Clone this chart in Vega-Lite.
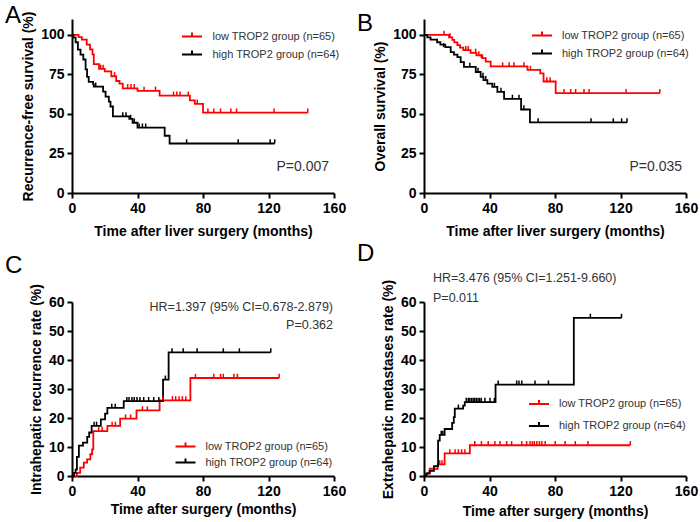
{
"$schema": "https://vega.github.io/schema/vega-lite/v6.json",
"padding": {"left": 5, "top": 4, "right": 5, "bottom": 5},
"background": "white",
"config": {
  "view": {"stroke": null},
  "font": "Liberation Sans",
  "axis": {"grid": false, "domainColor": "black", "domainWidth": 2, "tickColor": "black", "tickWidth": 2, "tickSize": 5,
    "labelFont": "Liberation Sans", "labelFontSize": 14, "labelFontWeight": "bold", "labelColor": "black", "labelPadding": 3,
    "titleFont": "Liberation Sans", "titleFontSize": 14, "titleFontWeight": "bold", "titleColor": "black",
    "labelFlush": false, "labelOverlap": false},
  "axisX": {"titlePadding": 9},
  "axisY": {"titlePadding": 5},
  "title": {"font": "Liberation Sans", "fontSize": 24, "fontWeight": "normal", "anchor": "start", "frame": "group", "color": "black"},
  "text": {"font": "Liberation Sans", "color": "#333"}
},
"bounds": "flush",
"columns": 2,
"spacing": {"row": 109, "column": 90},
"resolve": {"scale": {"x": "independent", "y": "independent", "color": "independent"}, "legend": {"color": "independent"}},
"datasets": {
  "aS": [
    {"g":"L","t":0,"v":100},{"g":"L","t":4,"v":98.5},{"g":"L","t":6,"v":96.9},{"g":"L","t":9,"v":93.8},{"g":"L","t":11,"v":90.8},{"g":"L","t":12.5,"v":87.7},{"g":"L","t":13.3,"v":81.5},{"g":"L","t":16.5,"v":78.5},{"g":"L","t":20,"v":76.9},{"g":"L","t":24,"v":73.8},{"g":"L","t":27,"v":70.8},{"g":"L","t":29,"v":69.2},{"g":"L","t":31,"v":66.2},{"g":"L","t":40,"v":64.6},{"g":"L","t":53.5,"v":61.5},{"g":"L","t":72,"v":58.5},{"g":"L","t":75,"v":56.4},{"g":"L","t":80,"v":50.8},{"g":"L","t":144,"v":50.8},
    {"g":"H","t":0,"v":100},{"g":"H","t":0.8,"v":98.4},{"g":"H","t":2.2,"v":95.3},{"g":"H","t":3.6,"v":90.6},{"g":"H","t":5.2,"v":87.5},{"g":"H","t":6.9,"v":84.4},{"g":"H","t":8.3,"v":78.1},{"g":"H","t":9.2,"v":73.4},{"g":"H","t":10.2,"v":70.3},{"g":"H","t":12.9,"v":68.8},{"g":"H","t":13.3,"v":67.2},{"g":"H","t":19,"v":64.1},{"g":"H","t":20.5,"v":60.9},{"g":"H","t":22.5,"v":57.8},{"g":"H","t":23.5,"v":54.7},{"g":"H","t":25,"v":48.4},{"g":"H","t":35,"v":46.8},{"g":"H","t":37,"v":44.4},{"g":"H","t":40,"v":41.3},{"g":"H","t":56.6,"v":36.2},{"g":"H","t":59.6,"v":31.3},{"g":"H","t":123.8,"v":31.3}
  ],
  "aC": [
    {"g":"L","t":17.5,"v":78.5},{"g":"L","t":19,"v":78.5},{"g":"L","t":26,"v":73.8},{"g":"L","t":34,"v":66.2},{"g":"L","t":36,"v":66.2},{"g":"L","t":38,"v":66.2},{"g":"L","t":44,"v":64.6},{"g":"L","t":51,"v":64.6},{"g":"L","t":62,"v":61.5},{"g":"L","t":64,"v":61.5},{"g":"L","t":66,"v":61.5},{"g":"L","t":71,"v":61.5},{"g":"L","t":76.5,"v":56.4},{"g":"L","t":83,"v":50.8},{"g":"L","t":86.6,"v":50.8},{"g":"L","t":90.7,"v":50.8},{"g":"L","t":97,"v":50.8},{"g":"L","t":100.5,"v":50.8},{"g":"L","t":123.4,"v":50.8},{"g":"L","t":144,"v":50.8},
    {"g":"H","t":14.5,"v":67.2},{"g":"H","t":31,"v":48.4},{"g":"H","t":33,"v":48.4},{"g":"H","t":35.8,"v":46.8},{"g":"H","t":38,"v":44.4},{"g":"H","t":41,"v":41.3},{"g":"H","t":43,"v":41.3},{"g":"H","t":45,"v":41.3},{"g":"H","t":70,"v":31.3},{"g":"H","t":101.5,"v":31.3},{"g":"H","t":121,"v":31.3},{"g":"H","t":123.8,"v":31.3}
  ],
  "bS": [
    {"g":"L","t":0,"v":100},{"g":"L","t":15.3,"v":98.4},{"g":"L","t":17.3,"v":96.8},{"g":"L","t":18.5,"v":95.2},{"g":"L","t":20.4,"v":93.5},{"g":"L","t":22,"v":91.9},{"g":"L","t":24,"v":90.3},{"g":"L","t":28.5,"v":88.6},{"g":"L","t":32,"v":87},{"g":"L","t":35.6,"v":85.3},{"g":"L","t":37.7,"v":83.1},{"g":"L","t":40.7,"v":80},{"g":"L","t":63.2,"v":77.8},{"g":"L","t":71,"v":75.6},{"g":"L","t":73,"v":70.5},{"g":"L","t":80.4,"v":63.1},{"g":"L","t":144,"v":63.1},
    {"g":"H","t":0,"v":100},{"g":"H","t":2,"v":98.4},{"g":"H","t":4,"v":96.9},{"g":"H","t":8,"v":95.3},{"g":"H","t":10,"v":93.8},{"g":"H","t":13,"v":92.2},{"g":"H","t":16.3,"v":89.1},{"g":"H","t":18.3,"v":87.5},{"g":"H","t":20.4,"v":85.9},{"g":"H","t":22.4,"v":82.8},{"g":"H","t":24.4,"v":79.7},{"g":"H","t":31.6,"v":76.5},{"g":"H","t":34.6,"v":73.4},{"g":"H","t":36.3,"v":71.3},{"g":"H","t":38.7,"v":69.2},{"g":"H","t":41.7,"v":67.1},{"g":"H","t":44.8,"v":63.9},{"g":"H","t":48.9,"v":59.5},{"g":"H","t":59.3,"v":52.8},{"g":"H","t":64.7,"v":44.6},{"g":"H","t":124,"v":44.6}
  ],
  "bC": [
    {"g":"L","t":12.3,"v":100},{"g":"L","t":15.9,"v":98.4},{"g":"L","t":25.5,"v":90.3},{"g":"L","t":27,"v":90.3},{"g":"L","t":31.5,"v":88.6},{"g":"L","t":33.5,"v":87},{"g":"L","t":35,"v":85.3},{"g":"L","t":48,"v":80},{"g":"L","t":52,"v":80},{"g":"L","t":55,"v":80},{"g":"L","t":61,"v":80},{"g":"L","t":65,"v":77.8},{"g":"L","t":75,"v":70.5},{"g":"L","t":77,"v":70.5},{"g":"L","t":85.5,"v":63.1},{"g":"L","t":89.6,"v":63.1},{"g":"L","t":92.6,"v":63.1},{"g":"L","t":97.7,"v":63.1},{"g":"L","t":100.8,"v":63.1},{"g":"L","t":123.4,"v":63.1},{"g":"L","t":144,"v":63.1},
    {"g":"H","t":12,"v":92.2},{"g":"H","t":28,"v":79.7},{"g":"H","t":33,"v":76.5},{"g":"H","t":36,"v":73.4},{"g":"H","t":37.7,"v":71.3},{"g":"H","t":43,"v":67.1},{"g":"H","t":47,"v":63.9},{"g":"H","t":54,"v":59.5},{"g":"H","t":58,"v":59.5},{"g":"H","t":61,"v":52.8},{"g":"H","t":69.7,"v":44.6},{"g":"H","t":102,"v":44.6},{"g":"H","t":115.6,"v":44.6},{"g":"H","t":120.7,"v":44.6},{"g":"H","t":124,"v":44.6}
  ],
  "cS": [
    {"g":"L","t":0,"v":0},{"g":"L","t":3,"v":1.1},{"g":"L","t":5,"v":2.9},{"g":"L","t":7.2,"v":4.6},{"g":"L","t":9.2,"v":5.7},{"g":"L","t":11.2,"v":7.5},{"g":"L","t":12.3,"v":9.2},{"g":"L","t":13,"v":15.5},{"g":"L","t":21.6,"v":17.3},{"g":"L","t":29.4,"v":19.8},{"g":"L","t":39.4,"v":22.6},{"g":"L","t":53.5,"v":26.1},{"g":"L","t":72.3,"v":33.8},{"g":"L","t":126.5,"v":33.8},
    {"g":"H","t":0,"v":0},{"g":"H","t":1.2,"v":1.1},{"g":"H","t":2.2,"v":2.2},{"g":"H","t":3,"v":6.6},{"g":"H","t":4.2,"v":10.5},{"g":"H","t":6.7,"v":11.5},{"g":"H","t":9.3,"v":13.5},{"g":"H","t":10.5,"v":15},{"g":"H","t":12,"v":17.3},{"g":"H","t":17.6,"v":19.5},{"g":"H","t":20.2,"v":21.5},{"g":"H","t":21.6,"v":23.5},{"g":"H","t":31.6,"v":25.8},{"g":"H","t":55.6,"v":33.2},{"g":"H","t":59,"v":42.6},{"g":"H","t":121.4,"v":42.6}
  ],
  "cC": [
    {"g":"L","t":16.3,"v":15.5},{"g":"L","t":18.4,"v":15.5},{"g":"L","t":24.5,"v":17.3},{"g":"L","t":26.5,"v":17.3},{"g":"L","t":32.7,"v":19.8},{"g":"L","t":35.8,"v":19.8},{"g":"L","t":43,"v":22.6},{"g":"L","t":46,"v":22.6},{"g":"L","t":55.5,"v":26.1},{"g":"L","t":61.3,"v":26.1},{"g":"L","t":63.3,"v":26.1},{"g":"L","t":65.4,"v":26.1},{"g":"L","t":67.4,"v":26.1},{"g":"L","t":69.5,"v":26.1},{"g":"L","t":75.4,"v":33.8},{"g":"L","t":86.6,"v":33.8},{"g":"L","t":90.7,"v":33.8},{"g":"L","t":92.4,"v":33.8},{"g":"L","t":98.9,"v":33.8},{"g":"L","t":101,"v":33.8},{"g":"L","t":126.5,"v":33.8},
    {"g":"H","t":13.5,"v":17.3},{"g":"H","t":15,"v":17.3},{"g":"H","t":24.3,"v":23.5},{"g":"H","t":26.4,"v":23.5},{"g":"H","t":33.5,"v":25.8},{"g":"H","t":34.8,"v":25.8},{"g":"H","t":36.6,"v":25.8},{"g":"H","t":38,"v":25.8},{"g":"H","t":39.7,"v":25.8},{"g":"H","t":41.5,"v":25.8},{"g":"H","t":43.8,"v":25.8},{"g":"H","t":46.8,"v":25.8},{"g":"H","t":49.9,"v":25.8},{"g":"H","t":53,"v":25.8},{"g":"H","t":57,"v":33.2},{"g":"H","t":61.1,"v":42.6},{"g":"H","t":67.9,"v":42.6},{"g":"H","t":76.4,"v":42.6},{"g":"H","t":92.4,"v":42.6},{"g":"H","t":102.2,"v":42.6},{"g":"H","t":121.4,"v":42.6}
  ],
  "dS": [
    {"g":"L","t":0,"v":0},{"g":"L","t":2,"v":0.9},{"g":"L","t":3.5,"v":2.5},{"g":"L","t":8.4,"v":4},{"g":"L","t":12.6,"v":7.8},{"g":"L","t":28,"v":10.6},{"g":"L","t":126,"v":10.6},
    {"g":"H","t":0,"v":0},{"g":"H","t":1.4,"v":0.9},{"g":"H","t":3.4,"v":1.8},{"g":"H","t":6.1,"v":3.4},{"g":"H","t":8.6,"v":12.2},{"g":"H","t":9.6,"v":14.2},{"g":"H","t":12.6,"v":16.2},{"g":"H","t":17.2,"v":18.3},{"g":"H","t":18.2,"v":20.3},{"g":"H","t":18.8,"v":23.2},{"g":"H","t":23.9,"v":24.3},{"g":"H","t":24.9,"v":25.5},{"g":"H","t":43.7,"v":31.5},{"g":"H","t":91.5,"v":54.5},{"g":"H","t":120.6,"v":54.5}
  ],
  "dC": [
    {"g":"L","t":9.6,"v":4},{"g":"L","t":11,"v":4},{"g":"L","t":15.8,"v":7.8},{"g":"L","t":19,"v":7.8},{"g":"L","t":21,"v":7.8},{"g":"L","t":23,"v":7.8},{"g":"L","t":25,"v":7.8},{"g":"L","t":31,"v":10.6},{"g":"L","t":35.1,"v":10.6},{"g":"L","t":39.2,"v":10.6},{"g":"L","t":43.3,"v":10.6},{"g":"L","t":46.4,"v":10.6},{"g":"L","t":50.5,"v":10.6},{"g":"L","t":53.5,"v":10.6},{"g":"L","t":59.7,"v":10.6},{"g":"L","t":62.7,"v":10.6},{"g":"L","t":64.8,"v":10.6},{"g":"L","t":66.2,"v":10.6},{"g":"L","t":67.4,"v":10.6},{"g":"L","t":68.9,"v":10.6},{"g":"L","t":70.5,"v":10.6},{"g":"L","t":72,"v":10.6},{"g":"L","t":74,"v":10.6},{"g":"L","t":80.1,"v":10.6},{"g":"L","t":86.2,"v":10.6},{"g":"L","t":92.4,"v":10.6},{"g":"L","t":100.1,"v":10.6},{"g":"L","t":126,"v":10.6},
    {"g":"H","t":10.5,"v":14.2},{"g":"H","t":11.5,"v":14.2},{"g":"H","t":21,"v":23.2},{"g":"H","t":25.8,"v":25.5},{"g":"H","t":27,"v":25.5},{"g":"H","t":28,"v":25.5},{"g":"H","t":29,"v":25.5},{"g":"H","t":30,"v":25.5},{"g":"H","t":31,"v":25.5},{"g":"H","t":32,"v":25.5},{"g":"H","t":33,"v":25.5},{"g":"H","t":34,"v":25.5},{"g":"H","t":35,"v":25.5},{"g":"H","t":37.2,"v":25.5},{"g":"H","t":40.3,"v":25.5},{"g":"H","t":43,"v":25.5},{"g":"H","t":45.3,"v":31.5},{"g":"H","t":56.6,"v":31.5},{"g":"H","t":58,"v":31.5},{"g":"H","t":59.7,"v":31.5},{"g":"H","t":67.8,"v":31.5},{"g":"H","t":76,"v":31.5},{"g":"H","t":101.6,"v":54.5},{"g":"H","t":120.6,"v":54.5}
  ]
},
"concat": [
  {
    "width": 262, "height": 174,
    "title": {"text": "A", "dx": -67, "dy": 21},
    "layer": [
      {"data": {"name": "aS"}, "mark": {"type": "line", "interpolate": "step-after", "strokeWidth": 1.8},
       "encoding": {
         "x": {"field": "t", "type": "quantitative", "scale": {"domain": [0, 160], "nice": false}, "axis": {"values": [0, 40, 80, 120, 160], "tickCount": 10, "labelOverlap": false, "title": "Time after liver surgery (months)"}},
         "y": {"field": "v", "type": "quantitative", "scale": {"domain": [0, 110], "nice": false}, "axis": {"values": [0, 25, 50, 75, 100], "tickCount": 10, "labelOverlap": false, "title": "Recurrence-free survival (%)"}},
         "color": {"field": "g", "type": "nominal", "scale": {"domain": ["L", "H"], "range": ["#ff0000", "#000000"]},
           "legend": {"orient": "none", "legendX": 114, "legendY": 11.5, "title": null, "padding": 0, "rowPadding": 5,
             "labelExpr": "datum.label == 'L' ? 'low TROP2 group (n=65)' : 'high TROP2 group (n=64)'",
             "symbolType": "M-2,0H2M0,0V-0.8", "symbolSize": 100, "symbolStrokeWidth": 2, "symbolFillColor": "transparent",
             "labelFont": "Liberation Sans", "labelFontSize": 11, "labelColor": "#333", "labelOffset": 14.5}}
       }},
      {"data": {"name": "aC"}, "mark": {"type": "point", "shape": "M0,0V-1", "size": 70, "filled": false, "strokeWidth": 1.5, "opacity": 1},
       "encoding": {"x": {"field": "t", "type": "quantitative"}, "y": {"field": "v", "type": "quantitative"}, "color": {"field": "g", "type": "nominal", "legend": null}}},
      {"data": {"values": [{"t": 157, "v": 16.5, "s": "P=0.007"}]}, "mark": {"type": "text", "align": "right", "baseline": "middle", "fontSize": 14},
       "encoding": {"x": {"field": "t", "type": "quantitative"}, "y": {"field": "v", "type": "quantitative"}, "text": {"field": "s"}}}
    ]
  },
  {
    "width": 262, "height": 174,
    "title": {"text": "B", "dx": -67, "dy": 21},
    "layer": [
      {"data": {"name": "bS"}, "mark": {"type": "line", "interpolate": "step-after", "strokeWidth": 1.8},
       "encoding": {
         "x": {"field": "t", "type": "quantitative", "scale": {"domain": [0, 160], "nice": false}, "axis": {"values": [0, 40, 80, 120, 160], "tickCount": 10, "labelOverlap": false, "title": "Time after liver surgery (months)"}},
         "y": {"field": "v", "type": "quantitative", "scale": {"domain": [0, 110], "nice": false}, "axis": {"values": [0, 25, 50, 75, 100], "tickCount": 10, "labelOverlap": false, "title": "Overall survival (%)"}},
         "color": {"field": "g", "type": "nominal", "scale": {"domain": ["L", "H"], "range": ["#ff0000", "#000000"]},
           "legend": {"orient": "none", "legendX": 112, "legendY": 10.5, "title": null, "padding": 0, "rowPadding": 5,
             "labelExpr": "datum.label == 'L' ? 'low TROP2 group (n=65)' : 'high TROP2 group (n=64)'",
             "symbolType": "M-2,0H2M0,0V-0.8", "symbolSize": 100, "symbolStrokeWidth": 2, "symbolFillColor": "transparent",
             "labelFont": "Liberation Sans", "labelFontSize": 11, "labelColor": "#333", "labelOffset": 14}}
       }},
      {"data": {"name": "bC"}, "mark": {"type": "point", "shape": "M0,0V-1", "size": 70, "filled": false, "strokeWidth": 1.5, "opacity": 1},
       "encoding": {"x": {"field": "t", "type": "quantitative"}, "y": {"field": "v", "type": "quantitative"}, "color": {"field": "g", "type": "nominal", "legend": null}}},
      {"data": {"values": [{"t": 157.6, "v": 16.5, "s": "P=0.035"}]}, "mark": {"type": "text", "align": "right", "baseline": "middle", "fontSize": 14},
       "encoding": {"x": {"field": "t", "type": "quantitative"}, "y": {"field": "v", "type": "quantitative"}, "text": {"field": "s"}}}
    ]
  },
  {
    "width": 262, "height": 174,
    "title": {"text": "C", "dx": -67, "dy": -2},
    "layer": [
      {"data": {"name": "cS"}, "mark": {"type": "line", "interpolate": "step-after", "strokeWidth": 1.8},
       "encoding": {
         "x": {"field": "t", "type": "quantitative", "scale": {"domain": [0, 160], "nice": false}, "axis": {"values": [0, 40, 80, 120, 160], "tickCount": 10, "labelOverlap": false, "title": "Time after surgery (months)", "titlePadding": 4}},
         "y": {"field": "v", "type": "quantitative", "scale": {"domain": [0, 60], "nice": false}, "axis": {"values": [0, 10, 20, 30, 40, 50, 60], "tickCount": 10, "labelOverlap": false, "title": "Intrahepatic recurrence rate (%)"}},
         "color": {"field": "g", "type": "nominal", "scale": {"domain": ["L", "H"], "range": ["#ff0000", "#000000"]},
           "legend": {"orient": "none", "legendX": 107.5, "legendY": 138.5, "title": null, "padding": 0, "rowPadding": 3,
             "labelExpr": "datum.label == 'L' ? 'low TROP2 group (n=65)' : 'high TROP2 group (n=64)'",
             "symbolType": "M-2,0H2M0,0V-0.8", "symbolSize": 100, "symbolStrokeWidth": 2, "symbolFillColor": "transparent",
             "labelFont": "Liberation Sans", "labelFontSize": 11, "labelColor": "#333", "labelOffset": 14}}
       }},
      {"data": {"name": "cC"}, "mark": {"type": "point", "shape": "M0,0V-1", "size": 70, "filled": false, "strokeWidth": 1.5, "opacity": 1},
       "encoding": {"x": {"field": "t", "type": "quantitative"}, "y": {"field": "v", "type": "quantitative"}, "color": {"field": "g", "type": "nominal", "legend": null}}},
      {"data": {"values": [{"t": 159.4, "v": 58.3, "s": "HR=1.397 (95% CI=0.678-2.879)"}, {"t": 159.4, "v": 52.1, "s": "P=0.362"}]}, "mark": {"type": "text", "align": "right", "baseline": "middle", "fontSize": 12.5},
       "encoding": {"x": {"field": "t", "type": "quantitative"}, "y": {"field": "v", "type": "quantitative"}, "text": {"field": "s"}}}
    ]
  },
  {
    "width": 262, "height": 174,
    "title": {"text": "D", "dx": -67, "dy": -2},
    "layer": [
      {"data": {"name": "dS"}, "mark": {"type": "line", "interpolate": "step-after", "strokeWidth": 1.8},
       "encoding": {
         "x": {"field": "t", "type": "quantitative", "scale": {"domain": [0, 160], "nice": false}, "axis": {"values": [0, 40, 80, 120, 160], "tickCount": 10, "labelOverlap": false, "title": "Time after surgery (months)", "titlePadding": 6}},
         "y": {"field": "v", "type": "quantitative", "scale": {"domain": [0, 60], "nice": false}, "axis": {"values": [0, 10, 20, 30, 40, 50, 60], "tickCount": 10, "labelOverlap": false, "title": "Extrahepatic metastases rate (%)"}},
         "color": {"field": "g", "type": "nominal", "scale": {"domain": ["L", "H"], "range": ["#ff0000", "#000000"]},
           "legend": {"orient": "none", "legendX": 109, "legendY": 96, "title": null, "padding": 0, "rowPadding": 9,
             "labelExpr": "datum.label == 'L' ? 'low TROP2 group (n=65)' : 'high TROP2 group (n=64)'",
             "symbolType": "M-2,0H2M0,0V-0.8", "symbolSize": 100, "symbolStrokeWidth": 2, "symbolFillColor": "transparent",
             "labelFont": "Liberation Sans", "labelFontSize": 11, "labelColor": "#333", "labelOffset": 14}}
       }},
      {"data": {"name": "dC"}, "mark": {"type": "point", "shape": "M0,0V-1", "size": 70, "filled": false, "strokeWidth": 1.5, "opacity": 1},
       "encoding": {"x": {"field": "t", "type": "quantitative"}, "y": {"field": "v", "type": "quantitative"}, "color": {"field": "g", "type": "nominal", "legend": null}}},
      {"data": {"values": [{"t": 5.5, "v": 68.2, "s": "HR=3.476 (95% CI=1.251-9.660)"}, {"t": 5.5, "v": 61.4, "s": "P=0.011"}]}, "mark": {"type": "text", "align": "left", "baseline": "middle", "fontSize": 12.5},
       "encoding": {"x": {"field": "t", "type": "quantitative"}, "y": {"field": "v", "type": "quantitative"}, "text": {"field": "s"}}}
    ]
  }
]
}
